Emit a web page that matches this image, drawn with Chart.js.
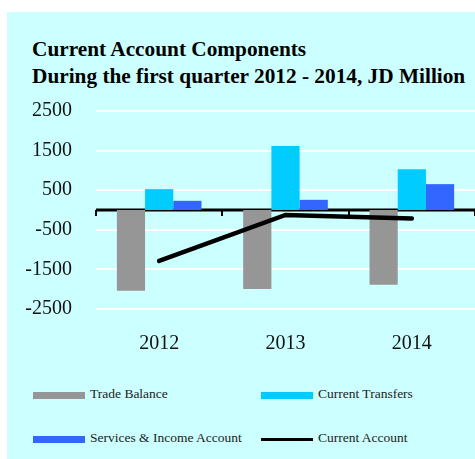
<!DOCTYPE html>
<html>
<head>
<meta charset="utf-8">
<script src="https://cdn.jsdelivr.net/npm/chart.js@4"></script>
<style>
  body { margin: 0; background: #fff; }
  #panel { position: absolute; left: 7px; top: 12px; width: 468px; height: 447px; background: #ccffff; }
  #titulo { position: absolute; left: 32px; top: 36px; font: bold 21.3px "Liberation Serif", serif; line-height: 27px; color: #000; white-space: nowrap; }
  .leyenda { position: absolute; font: 13.5px "Liberation Serif", serif; color: #222; white-space: nowrap; }
  .caja { position: absolute; width: 52px; }
</style>
</head>
<body>
<div id="panel"></div>
<div id="titulo">Current Account Components<br>During the first quarter 2012 - 2014, JD Million</div>
<div id="contenedor" style="position:absolute;left:7px;top:99px;width:468px;height:256px;">
  <canvas id="myChart"></canvas>
</div>
<div id="leyendas"></div>
<script>
const anios = ['2012', '2013', '2014'];
const balanzaComercial = [-2040, -1995, -1885];
const transferencias = [527, 1618, 1031];
const serviciosIngresos = [232, 257, 653];
const cuentaCorriente = [-1285, -125, -215];
const ticksY = [-2500, -1500, -500, 500, 1500, 2500];

const colores = {
    balanza: '#969696',
    transferencias: '#00ccff',
    servicios: '#3366ff',
    cuenta: '#000000'
};

// leyenda en HTML (dos columnas)
const itemsLeyenda = [
    { texto: 'Trade Balance', color: colores.balanza, x: 33, y: 395, alto: 7 },
    { texto: 'Current Transfers', color: colores.transferencias, x: 261, y: 395, alto: 7 },
    { texto: 'Services & Income Account', color: colores.servicios, x: 33, y: 439, alto: 7 },
    { texto: 'Current Account', color: colores.cuenta, x: 261, y: 439, alto: 3 }
];
const leyendas = document.getElementById('leyendas');
itemsLeyenda.forEach(function (item) {
    const caja = document.createElement('div');
    caja.className = 'caja';
    caja.style.left = item.x + 'px';
    caja.style.top = (item.y - item.alto / 2) + 'px';
    caja.style.height = item.alto + 'px';
    caja.style.background = item.color;
    leyendas.appendChild(caja);
    const txt = document.createElement('div');
    txt.className = 'leyenda';
    txt.style.left = (item.x + 57) + 'px';
    txt.style.top = (item.y - 9) + 'px';
    txt.textContent = item.texto;
    leyendas.appendChild(txt);
});

// linea del cero con marcas entre categorias
const lineaCero = {
    id: 'lineaCero',
    beforeDatasetsDraw: function (chart) {
        const c = chart.ctx;
        const x = chart.scales.x;
        const y0 = Math.round(chart.scales.y.getPixelForValue(0));
        c.save();
        c.strokeStyle = '#000';
        c.lineWidth = 3;
        c.beginPath();
        c.moveTo(chart.chartArea.left, y0);
        c.lineTo(chart.chartArea.right, y0);
        c.stroke();
        c.lineWidth = 2;
        for (let i = 0; i <= anios.length; i++) {
            const px = Math.round(x.getPixelForValue(i - 0.5));
            c.beginPath();
            c.moveTo(px, y0);
            c.lineTo(px, y0 + 6);
            c.stroke();
        }
        c.restore();
    }
};

const fuenteEjes = { family: 'Liberation Serif', size: 20 };

var ctx = document.getElementById('myChart').getContext('2d');
const myChart = new Chart(ctx, {
    type: 'bar',
    data: {
        labels: anios,
        datasets: [
            { label: 'Current Account', type: 'line', data: cuentaCorriente, borderColor: colores.cuenta, borderWidth: 4.5, pointRadius: 0, borderCapStyle: 'round', order: 0 },
            { label: 'Trade Balance', data: balanzaComercial, backgroundColor: colores.balanza, order: 1 },
            { label: 'Current Transfers', data: transferencias, backgroundColor: colores.transferencias, order: 1 },
            { label: 'Services & Income Account', data: serviciosIngresos, backgroundColor: colores.servicios, order: 1 }
        ]
    },
    options: {
        responsive: true,
        maintainAspectRatio: false,
        animation: false,
        datasets: { bar: { categoryPercentage: 0.67, barPercentage: 1 } },
        layout: { padding: { top: 12, left: 0, right: 0, bottom: 0 } },
        plugins: { legend: { display: false }, tooltip: { enabled: false } },
        scales: {
            x: {
                position: 'bottom',
                grid: { display: false },
                border: { display: false },
                ticks: { color: '#111', font: fuenteEjes, padding: 15 },
                afterFit: function (scale) { scale.height = 46; }
            },
            y: {
                min: -2500,
                max: 2500,
                afterBuildTicks: function (scale) {
                    scale.ticks = ticksY.map(function (v) { return { value: v }; });
                },
                grid: { color: '#ffffff', lineWidth: 2, drawTicks: true, tickLength: 24, tickColor: 'rgba(0,0,0,0)' },
                border: { display: false },
                ticks: { color: '#111', font: fuenteEjes, padding: 0, callback: function (v) { return String(v); } },
                afterFit: function (scale) { scale.width = 89; }
            }
        }
    },
    plugins: [lineaCero]
});
</script>
</body>
</html>
